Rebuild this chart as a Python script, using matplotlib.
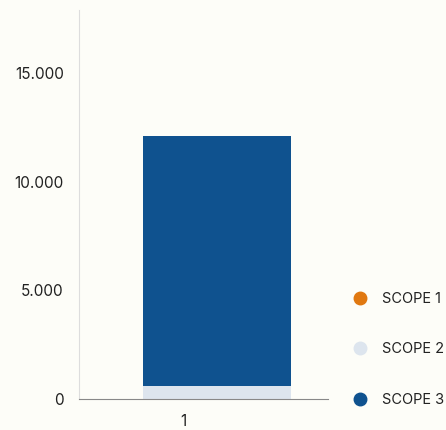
import matplotlib.pyplot as plt
from matplotlib.ticker import FuncFormatter
from matplotlib.lines import Line2D

# Emissions per scope (stacked in one column)
categories = ['1']
scope_names = ['SCOPE 1', 'SCOPE 2', 'SCOPE 3']
scope_1 = [0]
scope_2 = [600]
scope_3 = [11520]
colors = ['#e07810', '#dde5ee', '#0f528f']

plt.rcParams['font.family'] = ['Inter', 'DejaVu Sans']

fig = plt.figure(figsize=(4.46, 4.30), dpi=100)
fig.patch.set_facecolor('#fdfdf8')
ax = fig.add_axes([79 / 446, 31 / 430, 249 / 446, 389 / 430])
ax.set_facecolor('#fdfdf8')

pos = list(range(len(categories)))
bar_pos = [p + 0.136 for p in pos]
bottom = [0] * len(categories)
for vals, c in zip([scope_1, scope_2, scope_3], colors):
    ax.bar(bar_pos, vals, width=0.594, bottom=bottom, color=c, linewidth=0)
    bottom = [b + v for b, v in zip(bottom, vals)]

ax.set_xlim(-0.418, 0.582)
ax.set_ylim(0, 17926)
ax.set_xticks(pos)
ax.set_xticklabels(categories)
ax.set_yticks([0, 5000, 10000, 15000])
ax.yaxis.set_major_formatter(FuncFormatter(lambda v, _: f'{int(v):,}'.replace(',', '.')))
ax.tick_params(length=0, labelsize=11, colors='#222222')
ax.tick_params(axis='y', pad=11)
ax.tick_params(axis='x', pad=11)

for s in ['top', 'right']:
    ax.spines[s].set_visible(False)
ax.spines['left'].set_color('#dddddd')
ax.spines['bottom'].set_color('#888888')

handles = [Line2D([], [], marker='o', linestyle='', markersize=9,
                  markerfacecolor=c, markeredgecolor=c) for c in colors]
fig.legend(handles, scope_names, loc='lower left', bbox_to_anchor=(340 / 446, 10 / 430),
           frameon=False, fontsize=10.5, labelspacing=2.5, handletextpad=0.95,
           handlelength=1.0, labelcolor='#222222')

fig.savefig('out.png', dpi=100, facecolor=fig.get_facecolor())
